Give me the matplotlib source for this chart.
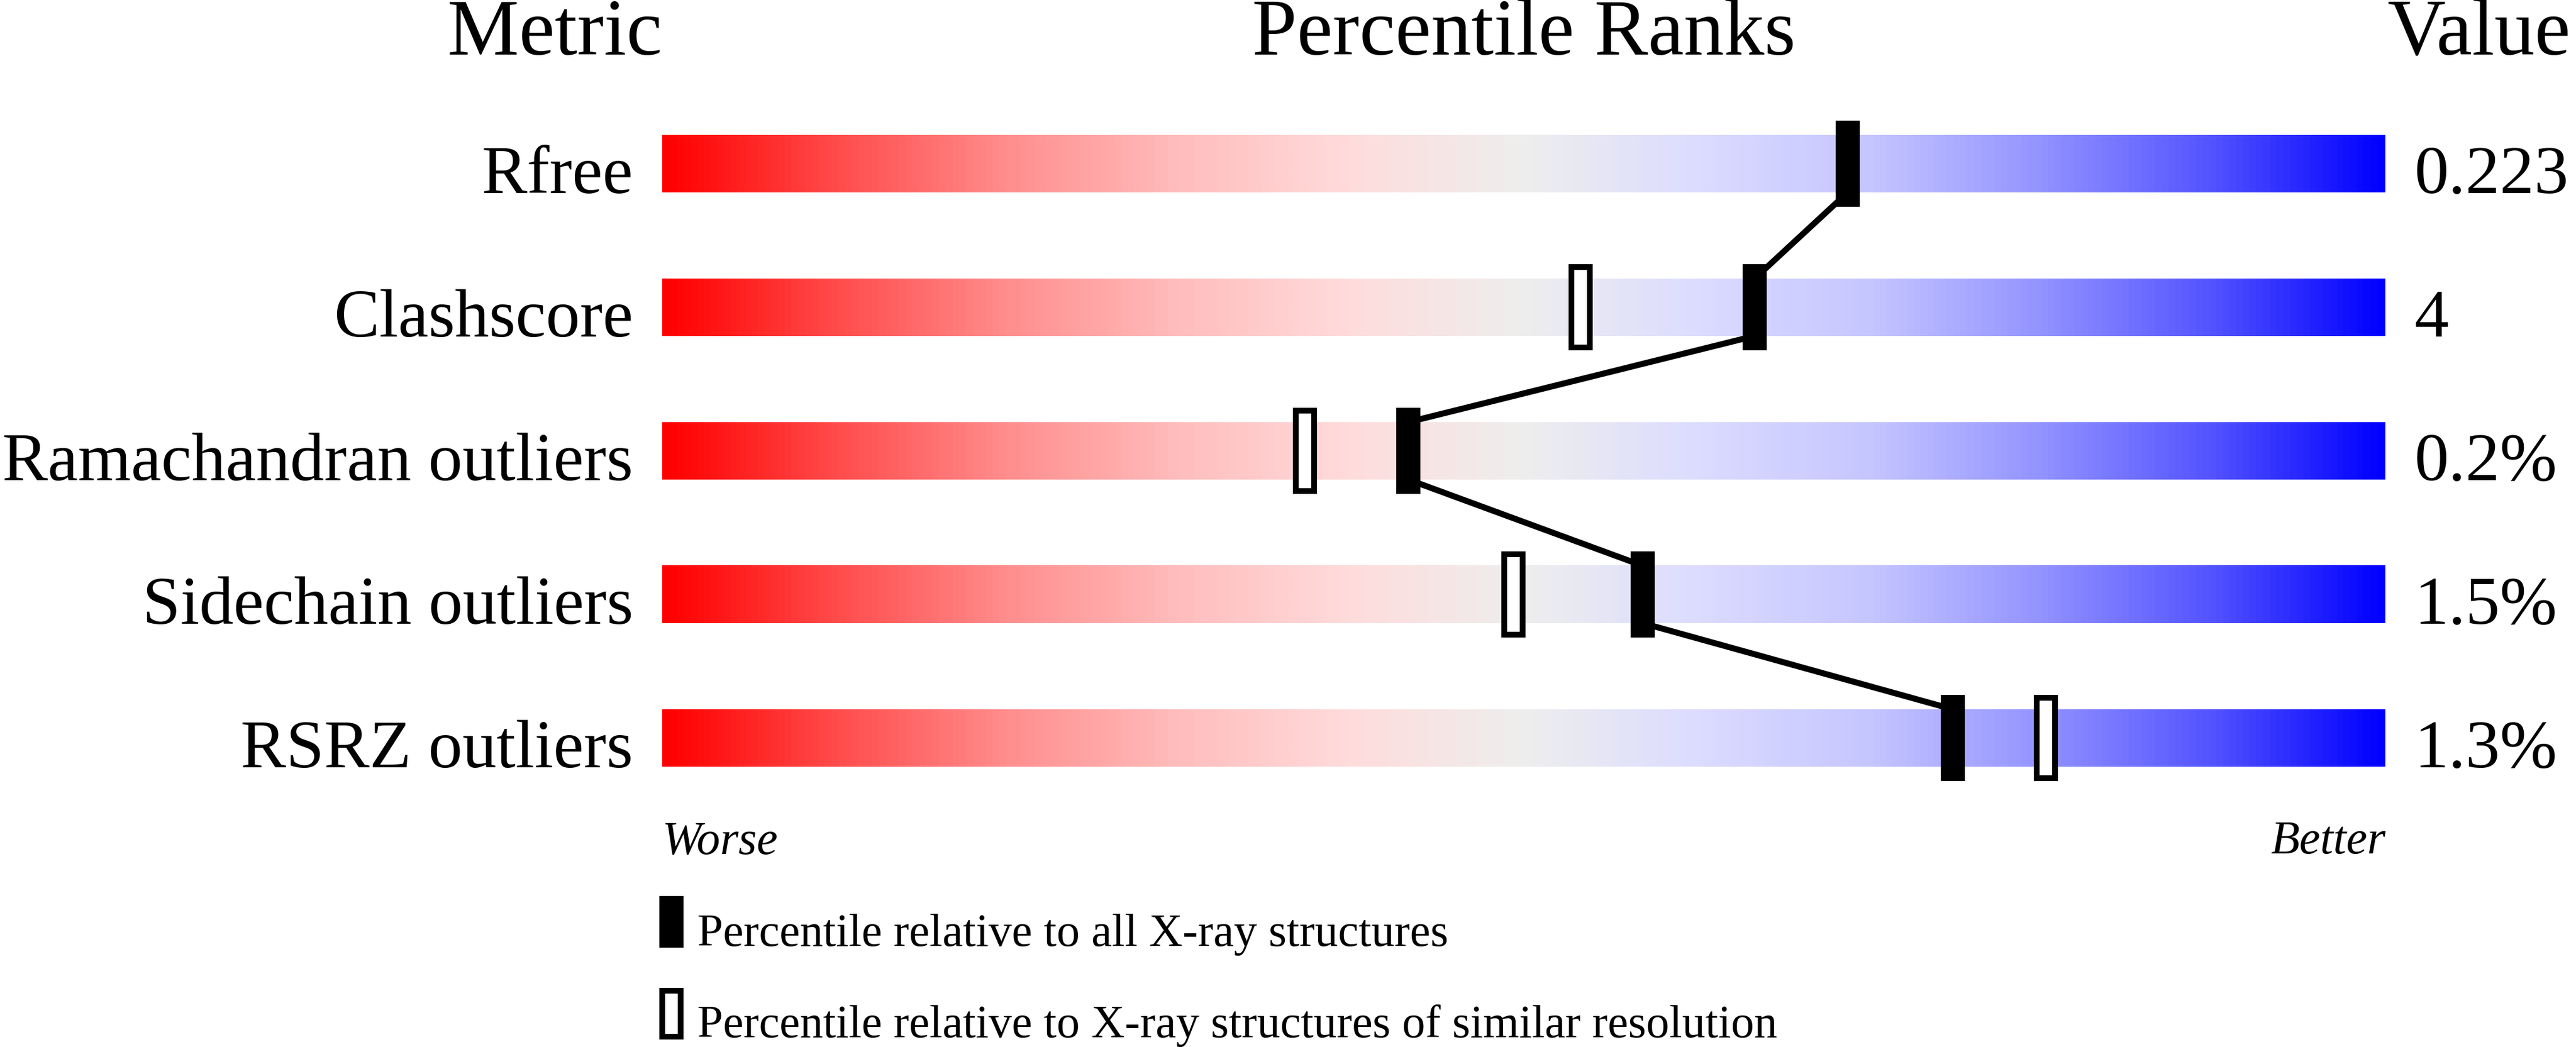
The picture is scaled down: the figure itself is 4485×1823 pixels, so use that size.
import numpy as np
import matplotlib
matplotlib.use("Agg")
from matplotlib import pyplot as plt
from matplotlib import font_manager as fm
from matplotlib.colors import LinearSegmentedColormap
from matplotlib.patches import Rectangle

# chart data
metrics = ["Rfree", "Clashscore", "Ramachandran outliers", "Sidechain outliers", "RSRZ outliers"]
values = ["0.223", "4", "0.2%", "1.5%", "1.3%"]
pct_all = [68.8, 63.4, 43.3, 56.9, 74.9]
pct_similar = [None, 53.3, 37.3, 49.4, 80.3]
legend_labels = ["Percentile relative to all X-ray structures",
                 "Percentile relative to X-ray structures of similar resolution"]

W, H, DPI = 4485, 1824, 100
BAR_L, BAR_R = 1153, 4153
ROW0, ROW_STEP = 286, 250

# serif font (Times-like), picked by file so nothing falls back to sans
reg_path = fm.findfont(fm.FontProperties(family="Liberation Serif", style="normal"))
ita_path = fm.findfont(fm.FontProperties(family="Liberation Serif", style="italic"))


def font(size, italic=False):
    return fm.FontProperties(fname=ita_path if italic else reg_path, size=size)


fig = plt.figure(figsize=(W / DPI, H / DPI), dpi=DPI)
ax = fig.add_axes([BAR_L / W, 0, (BAR_R - BAR_L) / W, 1])
ax.set_xlim(0, 100)
ax.set_ylim((H - ROW0) / ROW_STEP, -ROW0 / ROW_STEP)
ax.axis("off")

cmap = LinearSegmentedColormap.from_list("wwpdb", [
    (0.00, "#ff0000"),
    (0.10, "#ff4c4c"),
    (0.20, "#ff8e8e"),
    (0.30, "#ffbdbd"),
    (0.40, "#ffdcdc"),
    (0.50, "#eeeeee"),
    (0.60, "#dcdcff"),
    (0.70, "#c6c6ff"),
    (0.80, "#9494ff"),
    (0.90, "#5454ff"),
    (1.00, "#0000ff"),
])
grad = np.linspace(0, 1, 600).reshape(1, -1)

px = 100 / (BAR_R - BAR_L)   # percentile units per pixel
py = 1 / ROW_STEP            # row units per pixel
bar_h = 100 * py
mk_h = 150 * py
mk_w = 42 * px
edge = 10 * 72 / DPI
lw_pt = 10.5 * 72 / DPI

for i, name in enumerate(metrics):
    ax.imshow(grad, cmap=cmap, aspect="auto", interpolation="bilinear",
              extent=[0, 100, i + bar_h / 2, i - bar_h / 2], zorder=1)
    ax.text(-51 * px, i + bar_h / 2, name, ha="right", va="baseline",
            fontproperties=font(85.5), clip_on=False)
    ax.text(100 + 51 * px, i + bar_h / 2, values[i], ha="left", va="baseline",
            fontproperties=font(86), clip_on=False)

# connecting line between the "all structures" markers
for i in range(len(metrics) - 1):
    ax.plot([pct_all[i], pct_all[i + 1]], [i + bar_h / 2, i + 1 - bar_h / 2],
            color="black", lw=lw_pt, solid_capstyle="butt", zorder=2)

for i, p in enumerate(pct_all):
    ax.add_patch(Rectangle((p - mk_w / 2, i - mk_h / 2), mk_w, mk_h,
                           facecolor="black", edgecolor="none", zorder=3))
for i, p in enumerate(pct_similar):
    if p is None:
        continue
    ow = mk_w - 10 * px
    oh = mk_h - 10 * py
    ax.add_patch(Rectangle((p - ow / 2, i - oh / 2), ow, oh,
                           facecolor="white", edgecolor="black", lw=edge, zorder=3))

# headers
hy = (95 - ROW0) * py
ax.text(0, hy, "Metric", ha="right", va="baseline", fontproperties=font(101), clip_on=False)
ax.text(50, hy, "Percentile Ranks", ha="center", va="baseline", fontproperties=font(101), clip_on=False)
ax.text(100 + 3 * px, hy, "Value", ha="left", va="baseline", fontproperties=font(101), clip_on=False)

# worse / better
wy = (1486 - ROW0) * py
ax.text(0, wy, "Worse", ha="left", va="baseline", fontproperties=font(59, True), clip_on=False)
ax.text(100, wy, "Better", ha="right", va="baseline", fontproperties=font(59, True), clip_on=False)

# legend
lx = (1169 - BAR_L) * px
lg_h = 90 * py
ly1 = (1606 - ROW0) * py
ly2 = (1766 - ROW0) * py
ax.add_patch(Rectangle((lx - mk_w / 2, ly1 - lg_h / 2), mk_w, lg_h,
                       facecolor="black", edgecolor="none", clip_on=False))
ax.add_patch(Rectangle((lx - (mk_w - 10 * px) / 2, ly2 - (lg_h - 10 * py) / 2),
                       mk_w - 10 * px, lg_h - 10 * py,
                       facecolor="white", edgecolor="black", lw=edge, clip_on=False))
tx = (1214 - BAR_L) * px
ax.text(tx, (1647 - ROW0) * py, legend_labels[0], ha="left", va="baseline",
        fontproperties=font(58), clip_on=False)
ax.text(tx, (1806 - ROW0) * py, legend_labels[1], ha="left", va="baseline",
        fontproperties=font(58), clip_on=False)

fig.savefig("out.png", dpi=DPI, facecolor="white")
